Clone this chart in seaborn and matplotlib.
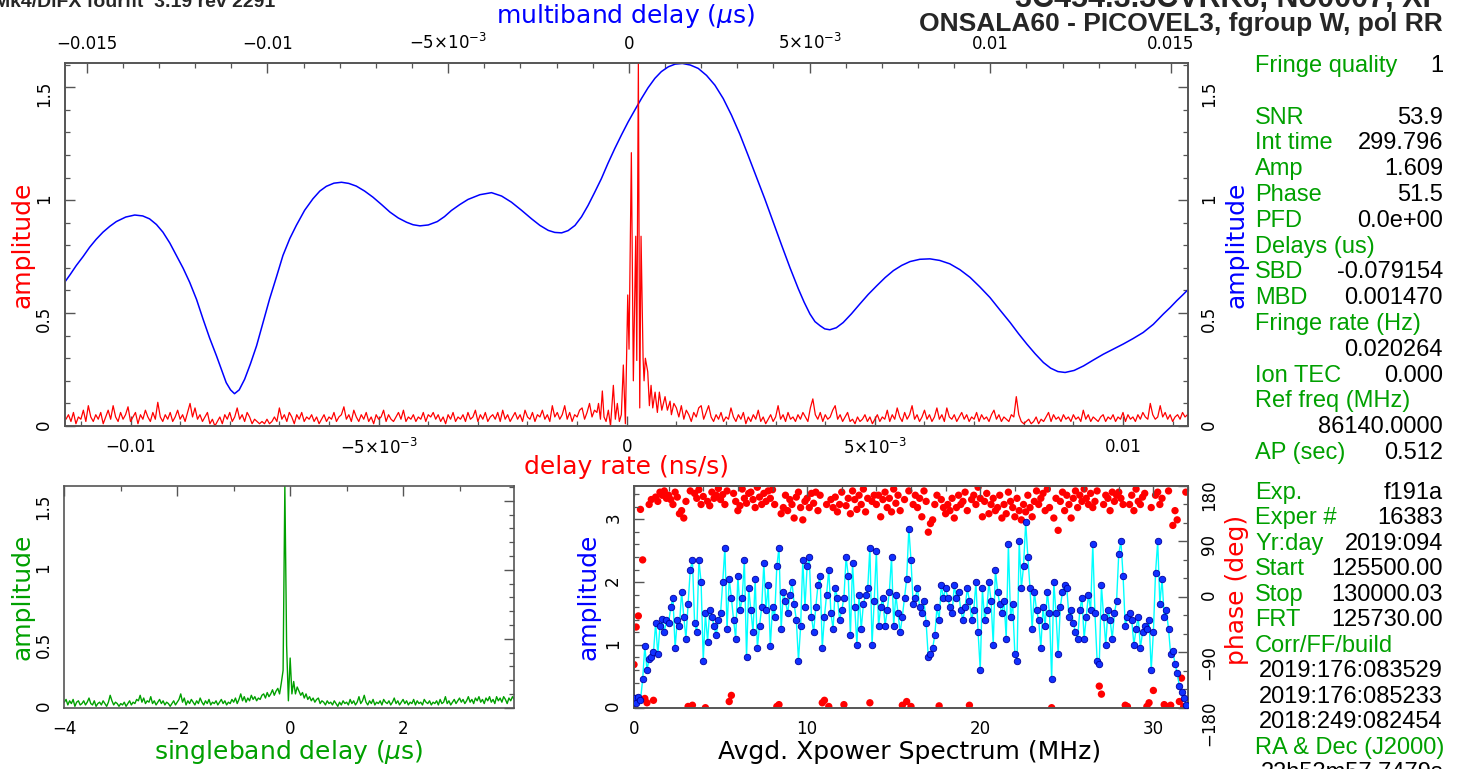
import numpy as np
import pandas as pd
import matplotlib
matplotlib.use("Agg")
import matplotlib.pyplot as plt
import matplotlib.ticker as mticker
import seaborn as sns

W, H = 1470, 769

# ---------------- data ----------------
# multiband delay (us), amplitude  -- blue curve
mbd_points = [
    (-0.01561, 0.636), (-0.01545, 0.672), (-0.01529, 0.710), (-0.01510, 0.750), (-0.01492, 0.791),
    (-0.01474, 0.826), (-0.01455, 0.858), (-0.01436, 0.884), (-0.01418, 0.905), (-0.01392, 0.925),
    (-0.01367, 0.934), (-0.01345, 0.930), (-0.01326, 0.917), (-0.01307, 0.892), (-0.01289, 0.858),
    (-0.01270, 0.810), (-0.01252, 0.755), (-0.01233, 0.698), (-0.01215, 0.636), (-0.01196, 0.560),
    (-0.01178, 0.473), (-0.01160, 0.390), (-0.01141, 0.311), (-0.01127, 0.250), (-0.01114, 0.192),
    (-0.01102, 0.160), (-0.01091, 0.143), (-0.01078, 0.160), (-0.01063, 0.207), (-0.01047, 0.275),
    (-0.01030, 0.355), (-0.01012, 0.458), (-0.00994, 0.562), (-0.00975, 0.660), (-0.00957, 0.755),
    (-0.00938, 0.830), (-0.00920, 0.888), (-0.00897, 0.955), (-0.00874, 1.006), (-0.00855, 1.040),
    (-0.00837, 1.061), (-0.00816, 1.075), (-0.00795, 1.079), (-0.00775, 1.074), (-0.00754, 1.062),
    (-0.00731, 1.040), (-0.00708, 1.013), (-0.00684, 0.980), (-0.00661, 0.947), (-0.00638, 0.921),
    (-0.00615, 0.902), (-0.00597, 0.891), (-0.00578, 0.886), (-0.00555, 0.890), (-0.00530, 0.905),
    (-0.00510, 0.927), (-0.00491, 0.954), (-0.00468, 0.980), (-0.00445, 1.003), (-0.00412, 1.024),
    (-0.00380, 1.033), (-0.00352, 1.018), (-0.00325, 0.991), (-0.00297, 0.955), (-0.00269, 0.917),
    (-0.00246, 0.888), (-0.00223, 0.866), (-0.00205, 0.857), (-0.00186, 0.855), (-0.00168, 0.865),
    (-0.00149, 0.888), (-0.00131, 0.926), (-0.00113, 0.976), (-0.00095, 1.033), (-0.00076, 1.095),
    (-0.00058, 1.162), (-0.00039, 1.228), (-0.00020, 1.290), (-0.00002, 1.346), (0.00017, 1.400),
    (0.00035, 1.450), (0.00053, 1.497), (0.00072, 1.539), (0.00090, 1.569), (0.00109, 1.590),
    (0.00128, 1.602), (0.00148, 1.605), (0.00170, 1.598), (0.00192, 1.583), (0.00215, 1.552),
    (0.00238, 1.509), (0.00261, 1.450), (0.00284, 1.376), (0.00307, 1.292), (0.00330, 1.198),
    (0.00353, 1.102), (0.00376, 1.006), (0.00400, 0.900), (0.00423, 0.799), (0.00446, 0.700),
    (0.00469, 0.607), (0.00485, 0.548), (0.00501, 0.496), (0.00515, 0.462), (0.00529, 0.444),
    (0.00542, 0.430), (0.00556, 0.426), (0.00574, 0.435), (0.00593, 0.458), (0.00616, 0.497),
    (0.00639, 0.540), (0.00662, 0.582), (0.00686, 0.621), (0.00709, 0.657), (0.00732, 0.688),
    (0.00755, 0.711), (0.00778, 0.728), (0.00805, 0.738), (0.00833, 0.740), (0.00860, 0.733),
    (0.00888, 0.718), (0.00916, 0.692), (0.00944, 0.658), (0.00971, 0.616), (0.00999, 0.569),
    (0.01027, 0.513), (0.01055, 0.458), (0.01078, 0.409), (0.01101, 0.363), (0.01124, 0.320),
    (0.01147, 0.281), (0.01167, 0.256), (0.01187, 0.241), (0.01207, 0.237), (0.01232, 0.246),
    (0.01258, 0.266), (0.01285, 0.292), (0.01313, 0.318), (0.01340, 0.340), (0.01368, 0.363),
    (0.01395, 0.387), (0.01423, 0.414), (0.01451, 0.450), (0.01479, 0.496), (0.01498, 0.525),
    (0.01516, 0.555), (0.01531, 0.578), (0.01546, 0.602)]
mbd_us = [p[0] for p in mbd_points]
mbd_amp = [p[1] for p in mbd_points]

# delay rate (ns/s) -> amplitude, red curve
# noise floor left of the peak, one value every 5e-5 ns/s from -0.0113
rate_left_amp = [
    0.03, 0.05, 0.02, 0.06, 0.01, 0.04, 0.03, 0.07, 0.02, 0.09, 0.04, 0.02, 0.05, 0.03, 0.06, 0.01, 0.04, 0.07, 0.03, 0.09,
    0.04, 0.02, 0.06, 0.03, 0.05, 0.085, 0.02, 0.04, 0.06, 0.01, 0.05, 0.03, 0.07, 0.04, 0.02, 0.06, 0.03, 0.105, 0.04, 0.02,
    0.05, 0.03, 0.06, 0.02, 0.04, 0.07, 0.03, 0.05, 0.02, 0.06, 0.10, 0.04, 0.08, 0.03, 0.05, 0.02, 0.04, 0.06, 0.01, 0.03,
    0.00, 0.02, 0.04, 0.01, 0.05, 0.03, 0.06, 0.02, 0.04, 0.08, 0.03, 0.05, 0.02, 0.06, 0.04, 0.01, 0.03, 0.02, 0.01, 0.02,
    0.01, 0.03, 0.01, 0.02, 0.04, 0.02, 0.08, 0.03, 0.05, 0.02, 0.06, 0.04, 0.01, 0.05, 0.03, 0.06, 0.02, 0.04, 0.03, 0.05,
    0.02, 0.04, 0.01, 0.03, 0.05, 0.02, 0.04, 0.03, 0.06, 0.02, 0.04, 0.05, 0.085, 0.03, 0.05, 0.02, 0.07, 0.04, 0.02, 0.05,
    0.03, 0.06, 0.02, 0.04, 0.01, 0.05, 0.03, 0.04, 0.07, 0.02, 0.05, 0.03, 0.02, 0.04, 0.06, 0.03, 0.07, 0.02, 0.04, 0.03,
    0.05, 0.02, 0.04, 0.03, 0.06, 0.02, 0.05, 0.04, 0.06, 0.03, 0.05, 0.02, 0.04, 0.01, 0.05, 0.03, 0.06, 0.02, 0.04, 0.03,
    0.05, 0.02, 0.06, 0.03, 0.04, 0.07, 0.02, 0.05, 0.03, 0.06, 0.02, 0.04, 0.05, 0.03, 0.06, 0.02, 0.07, 0.03, 0.05, 0.02,
    0.04, 0.06, 0.03, 0.05, 0.02, 0.07, 0.04, 0.03, 0.06, 0.02, 0.05, 0.04, 0.07, 0.03, 0.05, 0.02, 0.09, 0.04, 0.06, 0.03,
    0.05, 0.09, 0.03, 0.06, 0.02, 0.05, 0.04, 0.07, 0.08, 0.03, 0.06, 0.10, 0.04, 0.07]
# the fringe peak, read point by point
rate_peak_ns = [-0.000601, -0.000569, -0.000530, -0.000492, -0.000458, -0.000417, -0.000371, -0.000327,
                -0.000270, -0.000230, -0.000190, -0.000149, -0.000109, -0.000069, -0.000028, 0.000020,
                0.000046, 0.000093, 0.000133, 0.000181, 0.000202, 0.000234, 0.000262, 0.000288,
                0.000329, 0.000349, 0.000375, 0.000423, 0.000456, 0.000490, 0.000524, 0.000571,
                0.000617, 0.000657, 0.000706, 0.000772, 0.000819, 0.000873]
rate_peak_amp = [0.06, 0.10, 0.03, 0.155, 0.04, 0.02, 0.07, 0.00,
                 0.18, 0.03, 0.10, 0.02, 0.05, 0.27, 0.01, 0.58,
                 0.34, 1.21, 0.20, 0.84, 0.29, 1.609, 0.08, 0.84,
                 0.30, 0.20, 0.30, 0.24, 0.09, 0.18, 0.08, 0.15,
                 0.06, 0.15, 0.07, 0.13, 0.07, 0.11]
# noise floor right of the peak, every 5e-5 ns/s from 0.0009
rate_right_amp = [
    0.05, 0.10, 0.08, 0.04, 0.09, 0.03, 0.07, 0.05, 0.02, 0.06, 0.04, 0.08, 0.09, 0.03, 0.06, 0.09, 0.04, 0.02, 0.05, 0.03,
    0.06, 0.02, 0.04, 0.03, 0.08, 0.04, 0.02, 0.05, 0.03, 0.06, 0.01, 0.04, 0.02, 0.05, 0.03, 0.07, 0.02, 0.04, 0.01, 0.03,
    0.05, 0.02, 0.04, 0.09, 0.03, 0.05, 0.02, 0.06, 0.03, 0.04, 0.02, 0.05, 0.03, 0.06, 0.04, 0.02, 0.08, 0.12, 0.05, 0.03,
    0.06, 0.02, 0.05, 0.03, 0.04, 0.07, 0.09, 0.03, 0.05, 0.02, 0.04, 0.06, 0.02, 0.03, 0.01, 0.04, 0.02, 0.03, 0.05, 0.02,
    0.04, 0.01, 0.03, 0.05, 0.02, 0.04, 0.03, 0.07, 0.02, 0.05, 0.03, 0.08, 0.04, 0.02, 0.06, 0.03, 0.05, 0.09, 0.03, 0.05,
    0.02, 0.04, 0.07, 0.03, 0.05, 0.02, 0.04, 0.08, 0.03, 0.05, 0.02, 0.08, 0.04, 0.03, 0.05, 0.02, 0.04, 0.06, 0.03, 0.05,
    0.02, 0.04, 0.03, 0.06, 0.02, 0.05, 0.03, 0.04, 0.02, 0.05, 0.07, 0.03, 0.05, 0.02, 0.04, 0.03, 0.02, 0.05, 0.04, 0.13,
    0.05, 0.02, 0.01, 0.02, 0.03, 0.01, 0.02, 0.04, 0.01, 0.03, 0.02, 0.04, 0.06, 0.02, 0.05, 0.03, 0.04, 0.02, 0.05, 0.03,
    0.04, 0.02, 0.05, 0.03, 0.04, 0.02, 0.07, 0.03, 0.05, 0.02, 0.04, 0.03, 0.02, 0.04, 0.05, 0.02, 0.04, 0.03, 0.05, 0.02,
    0.04, 0.03, 0.06, 0.02, 0.05, 0.03, 0.04, 0.02, 0.05, 0.03, 0.06, 0.04, 0.03, 0.10, 0.05, 0.03, 0.04, 0.09, 0.04, 0.06,
    0.03, 0.05, 0.02, 0.04, 0.05, 0.03, 0.06, 0.04, 0.05]

# singleband delay, one value every 1/32 us starting at -4 us
sbd_amp = [
    0.04, 0.06, 0.02, 0.05, 0.03, 0.06, 0.01, 0.04, 0.05, 0.02, 0.03, 0.05, 0.02, 0.04, 0.07, 0.03,
    0.02, 0.05, 0.01, 0.03, 0.04, 0.02, 0.05, 0.03, 0.01, 0.04, 0.09, 0.05, 0.02, 0.04, 0.03, 0.01,
    0.03, 0.02, 0.04, 0.01, 0.03, 0.05, 0.02, 0.04, 0.03, 0.06, 0.05, 0.09, 0.04, 0.07, 0.03, 0.05,
    0.04, 0.08, 0.03, 0.05, 0.02, 0.04, 0.06, 0.03, 0.05, 0.02, 0.04, 0.03, 0.01, 0.03, 0.05, 0.02,
    0.04, 0.06, 0.10, 0.04, 0.07, 0.02, 0.05, 0.03, 0.06, 0.04, 0.02, 0.05, 0.03, 0.07, 0.04, 0.02,
    0.05, 0.03, 0.06, 0.02, 0.04, 0.03, 0.05, 0.02, 0.04, 0.06, 0.03, 0.05, 0.02, 0.04, 0.03, 0.06,
    0.04, 0.07, 0.03, 0.06, 0.10, 0.05, 0.08, 0.04, 0.07, 0.05, 0.09, 0.06, 0.08, 0.05, 0.07, 0.06,
    0.09, 0.10, 0.07, 0.11, 0.08, 0.10, 0.13, 0.09, 0.12, 0.14, 0.10, 0.18, 0.27, 1.609, 0.45, 0.05,
    0.36, 0.10, 0.19, 0.10, 0.15, 0.12, 0.09, 0.11, 0.07, 0.10, 0.06, 0.08, 0.05, 0.07, 0.04, 0.06,
    0.07, 0.03, 0.05, 0.04, 0.02, 0.05, 0.03, 0.04, 0.02, 0.05, 0.03, 0.01, 0.04, 0.02, 0.05, 0.03,
    0.04, 0.02, 0.06, 0.03, 0.05, 0.02, 0.04, 0.08, 0.03, 0.05, 0.09, 0.04, 0.02, 0.05, 0.03, 0.06,
    0.02, 0.04, 0.03, 0.05, 0.02, 0.06, 0.04, 0.03, 0.05, 0.02, 0.04, 0.07, 0.03, 0.05, 0.02, 0.04,
    0.06, 0.03, 0.05, 0.02, 0.04, 0.03, 0.06, 0.02, 0.05, 0.03, 0.04, 0.02, 0.06, 0.04, 0.03, 0.05,
    0.02, 0.04, 0.03, 0.05, 0.02, 0.06, 0.03, 0.04, 0.08, 0.03, 0.05, 0.02, 0.04, 0.06, 0.03, 0.05,
    0.07, 0.04, 0.06, 0.03, 0.05, 0.08, 0.04, 0.06, 0.03, 0.07, 0.05, 0.08, 0.04, 0.06, 0.03, 0.07,
    0.05, 0.08, 0.04, 0.06, 0.03, 0.08, 0.05, 0.07, 0.04, 0.08, 0.06, 0.03, 0.07, 0.05, 0.08, 0.06]

# averaged cross-power spectrum, one channel every 0.125 MHz
spec_amp = [
    0.15, 0.08, 0.17, 0.12, 0.45, 0.98, 0.60, 0.78, 0.80, 0.88, 1.35, 0.85, 1.30, 1.42, 1.20, 1.40,
    1.35, 1.60, 1.75, 0.95, 1.40, 1.30, 1.85, 1.45, 1.10, 1.65, 2.20, 2.35, 1.35, 1.20, 2.35, 2.00,
    0.75, 1.50, 1.05, 1.55, 1.45, 1.30, 1.15, 1.40, 1.50, 2.00, 2.55, 1.25, 2.05, 1.75, 1.40, 1.10,
    2.10, 1.55, 1.75, 2.35, 0.80, 1.90, 1.55, 1.20, 2.05, 0.95, 1.30, 1.60, 2.30, 1.55, 1.95, 0.98,
    1.60, 1.45, 2.25, 2.55, 1.25, 1.85, 1.70, 1.50, 1.80, 2.00, 1.65, 1.40, 0.75, 1.30, 2.35, 1.60,
    2.25, 2.40, 1.45, 1.20, 1.60, 1.95, 2.10, 0.95, 1.45, 1.80, 2.20, 1.50, 1.25, 1.90, 1.75, 1.40,
    1.55, 1.75, 2.40, 2.10, 1.15, 2.30, 1.60, 1.00, 1.80, 1.25, 1.65, 1.80, 1.90, 2.55, 1.00, 1.70,
    2.50, 1.30, 1.60, 1.75, 1.30, 1.55, 1.85, 2.40, 1.30, 1.80, 1.50, 1.20, 1.45, 1.75, 2.05, 2.85,
    2.35, 1.65, 1.75, 1.90, 1.60, 1.50, 1.70, 1.35, 0.80, 0.85, 0.95, 1.15, 1.60, 1.40, 1.95, 1.75,
    1.90, 1.75, 1.60, 1.50, 1.95, 1.75, 1.85, 1.55, 1.40, 1.60, 1.90, 1.70, 1.40, 1.55, 2.00, 1.20,
    0.60, 1.90, 1.40, 1.55, 2.00, 1.70, 1.00, 2.20, 1.85, 1.65, 1.50, 1.70, 1.10, 2.60, 1.45, 1.65,
    0.85, 0.75, 2.65, 1.90, 2.25, 2.95, 2.40, 1.90, 1.25, 1.85, 1.55, 1.40, 0.95, 1.60, 1.30, 1.85,
    1.50, 0.45, 2.00, 1.50, 0.85, 1.60, 1.85, 1.95, 1.90, 1.45, 1.55, 1.35, 1.20, 1.10, 1.55, 1.75,
    1.10, 1.45, 1.80, 1.55, 2.60, 1.50, 0.75, 0.70, 1.95, 1.45, 1.00, 1.55, 1.40, 1.10, 1.50, 1.70,
    2.45, 2.65, 2.10, 1.30, 1.45, 1.50, 1.40, 1.00, 1.25, 1.45, 0.95, 1.20, 1.30, 1.25, 1.40, 0.60,
    1.20, 2.15, 2.65, 1.65, 2.05, 1.45, 1.55, 1.25, 0.85, 0.90, 0.70, 0.55, 0.35, 0.25, 0.15, 0.05]
spec_phase = [
    -110, -49, -31, 142, 60, -165, -172, 150, 158, -168, 162, 155, 170, 165, 172, 160,
    165, 158, 150, 170, 162, 135, 140, 128, 155, -178, 172, -176, 168, 160, 174, 150,
    163, -180, 155, 148, 170, 160, 165, 176, 158, 166, 150, 172, -170, -160, 168, 155,
    140, 148, 175, 160, 152, 168, 170, 158, 145, 178, 162, 150, 168, 155, 172, 160,
    174, 150, -178, -175, 135, 145, 165, 140, 158, 150, 128, 162, 170, 145, 125, 155,
    160, 145, 168, 152, 170, 140, 165, -172, -168, 150, -178, 158, 145, 162, 138, 150,
    170, -175, 148, 160, 135, 172, 158, 142, 165, 150, 175, 138, 160, -172, 155, 165,
    150, 165, 130, 158, 170, 145, 160, 138, 175, 152, 165, 140, -176, 158, -170, 172,
    -178, 150, 165, 145, 160, 130, 172, 155, 105, 119, 125, 150, 165, -177, 158, 145,
    135, 150, 140, 160, 128, 145, 165, 150, 155, 170, 140, -176, 158, 165, 150, 178,
    160, 130, 155, 168, 135, 150, 160, 140, 145, 165, 128, 150, 135, 170, 155, 145,
    130, 160, 140, 125, 150, 138, 165, 145, 130, 155, 172, 150, 160, 168, 140, 175,
    145, -180, 128, 160, 108, 155, 170, 140, 165, 150, 128, 160, 172, 145, 165, 155,
    175, 160, 150, 168, 145, 155, 172, -145, -158, 150, 165, 160, 140, 170, 155, 165,
    170, 160, 150, -176, -178, 150, 165, 140, 175, 155, 150, 162, 168, -178, -172, 145,
    -152, 165, 170, 150, 160, -175, -178, 172, -176, 116, 140, 125, -170, -132, -178, 170]

# fringe summary text
summary_top = [("Fringe quality", "1"), ("", ""), ("SNR", "53.9"), ("Int time", "299.796"),
               ("Amp", "1.609"), ("Phase", "51.5"), ("PFD", "0.0e+00"), ("Delays (us)", ""),
               ("SBD", "-0.079154"), ("MBD", "0.001470"), ("Fringe rate (Hz)", ""),
               ("", "0.020264"), ("Ion TEC", "0.000"), ("Ref freq (MHz)", ""),
               ("", "86140.0000"), ("AP (sec)", "0.512")]
summary_bottom = [("Exp.", "f191a"), ("Exper #", "16383"), ("Yr:day", "2019:094"),
                  ("Start", "125500.00"), ("Stop", "130000.03"), ("FRT", "125730.00"),
                  ("Corr/FF/build", ""), ("", "2019:176:083529"), ("", "2019:176:085233"),
                  ("", "2018:249:082454"), ("RA & Dec (J2000)", ""), ("", "22h53m57.7479s")]
header_left = "Mk4/DiFX fourfit  3.19 rev 2291"
header_right = ["3C454.3.3CVRK6, No0007, XP", "ONSALA60 - PICOVEL3, fgroup W, pol RR"]

# ---------------- styling ----------------
sns.set_theme(style="white")
plt.rcParams["font.family"] = ["DejaVu Sans"]
plt.rcParams["mathtext.fontset"] = "dejavusans"
plt.rcParams["axes.edgecolor"] = "#555555"
plt.rcParams["axes.linewidth"] = 1.2

RED, BLUE, GREEN, CYAN = "#ff0000", "#0000ff", "#00a000", "#00ffff"
LBL = 18


def rect(x0, y0, x1, y1):
    return [x0 / W, 1 - y1 / H, (x1 - x0) / W, (y1 - y0) / H]


def fx(x):
    return x / W


def fy(y):
    return 1 - y / H


def pg_fmt(v, pos):
    if abs(v) < 1e-12:
        return "0"
    if abs(abs(v) - 0.005) < 1e-9:
        return r"$%s5{\times}10^{-3}$" % ("-" if v < 0 else "")
    return ("%g" % v).replace("-", "\u2212")


def ticks(ax, axis, major, minor):
    loc = ax.xaxis if axis == "x" else ax.yaxis
    loc.set_major_locator(mticker.MultipleLocator(major))
    loc.set_minor_locator(mticker.MultipleLocator(minor))
    loc.set_major_formatter(mticker.FuncFormatter(pg_fmt))


def base_ticks(ax):
    ax.tick_params(which="both", direction="in", color="#555555", labelcolor="black",
                   labelsize=12, pad=8.5)
    ax.tick_params(which="major", length=7, width=1)
    ax.tick_params(which="minor", length=3.5, width=0.9)
    ax.tick_params(axis="y", labelrotation=90)


def place_label(lab, color):
    lab.set_color(color)
    lab.set_fontsize(LBL)
    lab.set_verticalalignment("center")
    lab.set_horizontalalignment("center")


fig = plt.figure(figsize=(W / 100, H / 100), dpi=100)

# ---------------- top panel: multiband delay + delay rate ----------------
top = rect(65, 63, 1188, 426)
ax_mbd = fig.add_axes(top, label="mbd")
ax_rate = fig.add_axes(top, label="rate")
ax_rate.patch.set_visible(False)

mbd_df = pd.DataFrame({"mbd": mbd_us, "amp": mbd_amp})
sns.lineplot(data=mbd_df, x="mbd", y="amp", ax=ax_mbd, color=BLUE, lw=1.1,
             sort=False, estimator=None)

rate_df = pd.DataFrame({
    "rate": np.concatenate([np.linspace(-0.01130, -0.00065, len(rate_left_amp)),
                            rate_peak_ns,
                            np.linspace(0.00090, 0.01130, len(rate_right_amp))]),
    "amp": np.concatenate([rate_left_amp, rate_peak_amp, rate_right_amp])})
sns.lineplot(data=rate_df, x="rate", y="amp", ax=ax_rate, color=RED, lw=0.9,
             sort=False, estimator=None)

ax_mbd.set_xlim(-0.0156, 0.01547)
ax_rate.set_xlim(-0.01132, 0.01131)
for a in (ax_mbd, ax_rate):
    a.set_ylim(0, 1.607)
    base_ticks(a)
    ticks(a, "y", 0.5, 0.1)
ticks(ax_mbd, "x", 0.005, 0.001)
ticks(ax_rate, "x", 0.005, 0.001)
ax_mbd.xaxis.tick_top()
ax_mbd.yaxis.tick_right()
ax_mbd.tick_params(which="both", top=True, bottom=False, right=True, left=False,
                   labeltop=True, labelbottom=False, labelright=True, labelleft=False)
ax_mbd.tick_params(axis="x", pad=7)
ax_rate.tick_params(which="both", top=False, bottom=True, right=False, left=True,
                    labeltop=False, labelright=False)

ax_mbd.xaxis.set_label_position("top")
ax_mbd.yaxis.set_label_position("right")
ax_mbd.set_xlabel(r"multiband delay ($\mu$s)")
ax_mbd.set_ylabel("amplitude")
ax_mbd.xaxis.set_label_coords(fx(626), fy(16), transform=fig.transFigure)
ax_mbd.yaxis.set_label_coords(fx(1237), fy(245), transform=fig.transFigure)
place_label(ax_mbd.xaxis.label, BLUE)
place_label(ax_mbd.yaxis.label, BLUE)

ax_rate.set_xlabel("delay rate (ns/s)")
ax_rate.set_ylabel("amplitude")
ax_rate.xaxis.set_label_coords(fx(626), fy(467), transform=fig.transFigure)
ax_rate.yaxis.set_label_coords(fx(22), fy(245), transform=fig.transFigure)
place_label(ax_rate.xaxis.label, RED)
place_label(ax_rate.yaxis.label, RED)

# ---------------- bottom left: singleband delay ----------------
ax_sbd = fig.add_axes(rect(64.3, 486, 514.3, 707.7))
sbd_df = pd.DataFrame({"sbd": np.arange(len(sbd_amp)) / 32 - 4, "amp": sbd_amp})
sns.lineplot(data=sbd_df, x="sbd", y="amp", ax=ax_sbd, color=GREEN, lw=1.0,
             sort=False, estimator=None)
ax_sbd.set_xlim(-4, 3.97)
ax_sbd.set_ylim(0, 1.607)
base_ticks(ax_sbd)
ticks(ax_sbd, "x", 2, 1)
ticks(ax_sbd, "y", 0.5, 0.1)
ax_sbd.tick_params(which="both", top=True, right=True)
ax_sbd.set_xlabel(r"singleband delay ($\mu$s)")
ax_sbd.set_ylabel("amplitude")
ax_sbd.xaxis.set_label_coords(fx(289), fy(752), transform=fig.transFigure)
ax_sbd.yaxis.set_label_coords(fx(22), fy(597), transform=fig.transFigure)
place_label(ax_sbd.xaxis.label, GREEN)
place_label(ax_sbd.yaxis.label, GREEN)

# ---------------- bottom middle: cross-power spectrum ----------------
ax_spec = fig.add_axes(rect(634, 486, 1188, 707.7))
ax_phase = ax_spec.twinx()
ax_spec.set_zorder(ax_phase.get_zorder() + 1)
ax_spec.patch.set_visible(False)

phase_df = pd.DataFrame({"mhz": np.arange(len(spec_phase)) * 0.125, "phase": spec_phase})
sns.scatterplot(data=phase_df, x="mhz", y="phase", ax=ax_phase, color=RED, s=28,
                edgecolor="none")
amp_df = pd.DataFrame({"mhz": np.arange(len(spec_amp)) * 0.125, "amp": spec_amp})
sns.lineplot(data=amp_df, x="mhz", y="amp", ax=ax_spec, color=CYAN, lw=1.0,
             sort=False, estimator=None)
sns.scatterplot(data=amp_df, x="mhz", y="amp", ax=ax_spec, color="#1030ff", s=22,
                edgecolor="#0000a0", linewidth=0.6, zorder=3)

ax_spec.set_xlim(0, 32)
ax_spec.set_ylim(0, 3.53)
ax_phase.set_ylim(-180, 180)
for a in (ax_spec, ax_phase):
    base_ticks(a)
ticks(ax_spec, "x", 10, 2)
ticks(ax_spec, "y", 1, 0.2)
ticks(ax_phase, "y", 90, 30)
ax_spec.tick_params(which="both", top=True, right=False)
ax_phase.tick_params(which="both", right=True, left=False, labelright=True, labelleft=False)

ax_spec.set_xlabel("Avgd. Xpower Spectrum (MHz)")
ax_spec.set_ylabel("amplitude")
ax_spec.xaxis.set_label_coords(fx(910), fy(752), transform=fig.transFigure)
ax_spec.yaxis.set_label_coords(fx(588), fy(597), transform=fig.transFigure)
place_label(ax_spec.xaxis.label, "black")
place_label(ax_spec.yaxis.label, BLUE)
ax_phase.set_ylabel("phase (deg)")
ax_phase.yaxis.set_label_coords(fx(1237), fy(590), transform=fig.transFigure)
place_label(ax_phase.yaxis.label, RED)
ax_phase.yaxis.label.set_rotation(90)

# ---------------- header (cut by the top edge, as in the reference) ----------------
hfam = ["Liberation Sans", "DejaVu Sans"]
fig.text(fx(-6), fy(7), header_left, ha="left", va="baseline",
         family=["Liberation Sans Narrow", "Liberation Sans", "DejaVu Sans"],
         weight="bold", size=14)
fig.text(fx(1443), fy(7), header_right[0], ha="right", va="baseline",
         family=hfam, weight="bold", size=22)
fig.text(fx(1443), fy(31), header_right[1], ha="right", va="baseline",
         family=hfam, weight="bold", size=19)

# ---------------- summary text ----------------
tfont = dict(family=hfam, size=17)
for i, (lab, val) in enumerate(summary_top):
    yb = 65 + 25.8 * i + 7
    if lab:
        fig.text(fx(1255), fy(yb), lab, color=GREEN, ha="left", va="baseline", **tfont)
    if val:
        fig.text(fx(1443), fy(yb), val, color="black", ha="right", va="baseline", **tfont)
for i, (lab, val) in enumerate(summary_bottom):
    yb = 491.7 + 25.5 * i + 7
    if lab:
        fig.text(fx(1255), fy(yb), lab, color=GREEN, ha="left", va="baseline", **tfont)
    if val:
        fig.text(fx(1443), fy(yb), val, color="black", ha="right", va="baseline", **tfont)

fig.savefig("out.png", dpi=100)
